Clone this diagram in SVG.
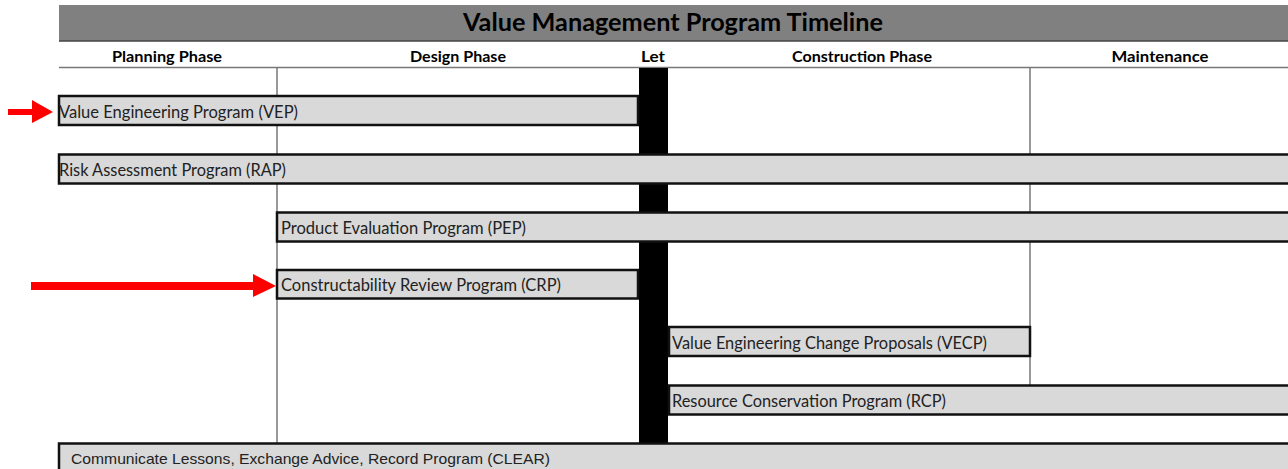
<svg xmlns="http://www.w3.org/2000/svg" width="1288" height="469" viewBox="0 0 1288 469">
<style>
.bar{fill:#d9d9d9;stroke:#111;stroke-width:2.5}
.lbl{font-family:Lato,"Liberation Sans",sans-serif;font-size:18px;fill:#222}
.hdr{font-family:Lato,"Liberation Sans",sans-serif;font-size:16px;font-weight:bold;fill:#000;text-anchor:middle}
.grid{stroke:#777;stroke-width:1.5}
.arrow{fill:#f00}
</style>
<rect x="0" y="0" width="1288" height="469" fill="#fff"/>
<g id="title">
<rect x="59" y="5" width="1229" height="36" fill="#808080"/>
<line x1="59" y1="41" x2="1288" y2="41" stroke="#444" stroke-width="1.5"/>
<text x="673" y="31" font-family="Lato,'Liberation Sans',sans-serif" font-size="24" font-weight="bold" text-anchor="middle" textLength="420" lengthAdjust="spacingAndGlyphs">Value Management Program Timeline</text>
</g>
<g id="headers">
<text class="hdr" x="167" y="62" textLength="110" lengthAdjust="spacingAndGlyphs">Planning Phase</text>
<text class="hdr" x="458" y="62" textLength="96" lengthAdjust="spacingAndGlyphs">Design Phase</text>
<text class="hdr" x="653" y="62" textLength="24" lengthAdjust="spacingAndGlyphs">Let</text>
<text class="hdr" x="862" y="62" textLength="140" lengthAdjust="spacingAndGlyphs">Construction Phase</text>
<text class="hdr" x="1160" y="62" textLength="97" lengthAdjust="spacingAndGlyphs">Maintenance</text>
<line x1="59" y1="67.5" x2="1288" y2="67.5" class="grid"/>
</g>
<g id="grid">
<line x1="277" y1="68" x2="277" y2="443" class="grid"/>
<line x1="1030" y1="68" x2="1030" y2="385" class="grid"/>
<rect id="let" x="639" y="68" width="29" height="375" fill="#000"/>
</g>
<g id="vep"><rect class="bar" x="59" y="96" width="579" height="29"/><text class="lbl" x="59" y="118" textLength="239" lengthAdjust="spacingAndGlyphs">Value Engineering Program (VEP)</text></g>
<g id="rap"><rect class="bar" x="59" y="154.5" width="1232" height="29"/><text class="lbl" x="59" y="176" textLength="227" lengthAdjust="spacingAndGlyphs">Risk Assessment Program (RAP)</text></g>
<g id="pep"><rect class="bar" x="277" y="212.5" width="1014" height="29"/><text class="lbl" x="281" y="234" textLength="245" lengthAdjust="spacingAndGlyphs">Product Evaluation Program (PEP)</text></g>
<g id="crp"><rect class="bar" x="277" y="270" width="361" height="28.5"/><text class="lbl" x="281" y="291" textLength="280" lengthAdjust="spacingAndGlyphs">Constructability Review Program (CRP)</text></g>
<g id="vecp"><rect class="bar" x="669" y="327" width="361" height="29"/><text class="lbl" x="672" y="349" textLength="315" lengthAdjust="spacingAndGlyphs">Value Engineering Change Proposals (VECP)</text></g>
<g id="rcp"><rect class="bar" x="669" y="385.5" width="622" height="29"/><text class="lbl" x="672" y="407" textLength="274" lengthAdjust="spacingAndGlyphs">Resource Conservation Program (RCP)</text></g>
<g id="clear"><rect class="bar" x="59" y="443.5" width="1232" height="30"/><text x="71" y="464" font-family="'Liberation Sans',Arial,sans-serif" font-size="15" fill="#222" textLength="479" lengthAdjust="spacingAndGlyphs">Communicate Lessons, Exchange Advice, Record Program (CLEAR)</text></g>
<g id="connectors">
<polygon class="arrow" points="8,109 32,109 32,100 53,112 32,123 32,115 8,115"/>
<polygon class="arrow" points="31,282 253,282 253,274 276,286 253,297 253,290 31,290"/>
</g>
</svg>
